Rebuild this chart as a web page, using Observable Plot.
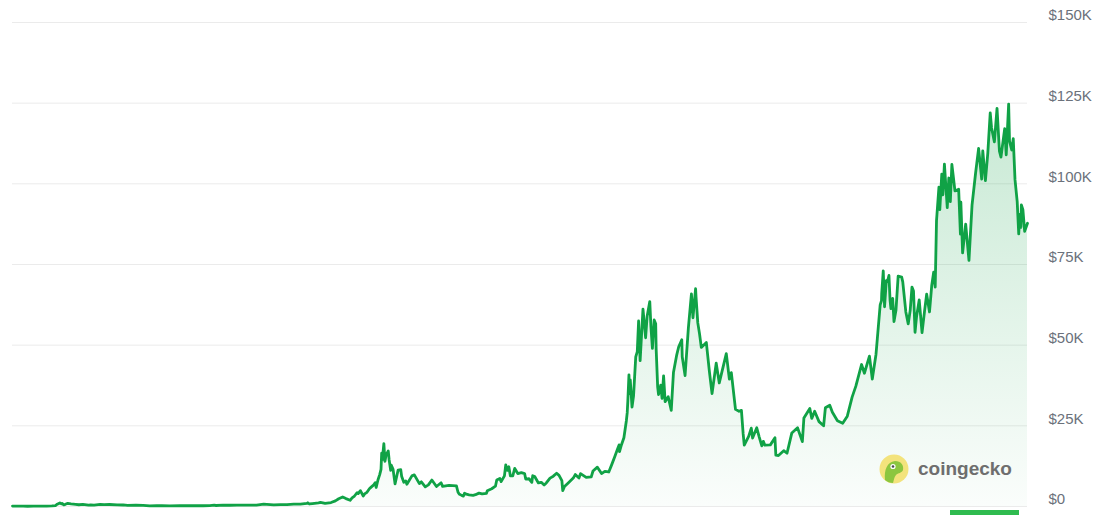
<!DOCTYPE html>
<html>
<head>
<meta charset="utf-8">
<script src="https://cdn.jsdelivr.net/npm/d3@7"></script>
<script src="https://cdn.jsdelivr.net/npm/@observablehq/plot@0.6"></script>
<style>
  html, body { margin: 0; padding: 0; background: #ffffff; }
  #wrap { position: relative; width: 1099px; height: 515px; overflow: hidden; }
  #wm { position: absolute; left: 879px; top: 454px; display: flex; align-items: center; gap: 9px;
        font-family: "Liberation Sans", Arial, sans-serif; font-weight: 700; font-size: 19px; color: #6e6e6e; }
  #nav { position: absolute; left: 950px; top: 510px; width: 69px; height: 5px; background: #2fbb4f; }
</style>
</head>
<body>
<div id="wrap">
  <div id="chart"></div>
  <div id="wm">
    <svg width="30" height="30" viewBox="0 0 30 30">
      <circle cx="15" cy="15" r="14.5" fill="#f3e37c"/>
      <path d="M6 26 C5 16 8 8 16 7 C22 7 25 11 24 16 C23 19 19 19 17 21 C15 23 15 26 14 29 C11 29 8 28 6 26 Z" fill="#8cc63f"/>
      <circle cx="14" cy="12.5" r="2.6" fill="#ffffff"/>
      <circle cx="14" cy="12.5" r="1.3" fill="#4a4a4a"/>
    </svg>
    <span>coingecko</span>
  </div>
  <div id="nav"></div>
</div>
<script>
const dates = [
"2013-04-28","2013-05-15","2013-06-15","2013-07-06","2013-08-01","2013-09-01","2013-10-01","2013-10-25","2013-11-10","2013-11-18","2013-11-30","2013-12-07","2013-12-10","2013-12-18","2013-12-25",
"2014-01-05","2014-01-20","2014-02-10","2014-02-25","2014-03-15","2014-04-10","2014-04-20","2014-05-05","2014-06-02","2014-06-20","2014-07-15","2014-08-18","2014-09-15","2014-10-05","2014-11-12","2014-12-15",
"2015-01-14","2015-02-15","2015-03-10","2015-04-15","2015-06-01","2015-07-10","2015-08-20","2015-09-15","2015-10-15","2015-11-04","2015-11-12","2015-12-15",
"2016-01-15","2016-02-15","2016-03-15","2016-04-15","2016-05-15","2016-06-17","2016-07-01","2016-08-02","2016-09-01","2016-10-01","2016-11-01","2016-12-01","2016-12-31",
"2017-01-04","2017-01-11","2017-01-25","2017-02-22","2017-03-03","2017-03-24","2017-04-20","2017-05-10","2017-05-25","2017-06-12","2017-06-27","2017-07-16","2017-07-25","2017-08-05","2017-08-17","2017-08-22","2017-09-01","2017-09-14","2017-09-20","2017-10-01","2017-10-12","2017-10-20","2017-11-01","2017-11-08","2017-11-12","2017-11-20","2017-11-28","2017-12-04","2017-12-07","2017-12-10","2017-12-17","2017-12-22","2017-12-27",
"2018-01-06","2018-01-10","2018-01-17","2018-01-20","2018-01-28","2018-02-06","2018-02-10","2018-02-20","2018-03-04","2018-03-08","2018-03-18","2018-03-27","2018-04-01","2018-04-24","2018-05-05","2018-05-28","2018-06-06","2018-06-24","2018-07-08","2018-07-24","2018-08-14","2018-09-04","2018-09-11","2018-10-10","2018-11-13","2018-11-20","2018-11-25","2018-12-07","2018-12-15","2018-12-20","2018-12-28",
"2019-01-10","2019-01-28","2019-02-08","2019-02-24","2019-03-10","2019-03-30","2019-04-03","2019-04-23","2019-05-10","2019-05-16","2019-05-30","2019-06-05","2019-06-20","2019-06-26","2019-07-03","2019-07-10","2019-07-17","2019-07-28","2019-08-06","2019-08-20","2019-09-05","2019-09-20","2019-09-25","2019-10-10","2019-10-23","2019-10-27","2019-11-05","2019-11-22","2019-12-05","2019-12-18","2019-12-28",
"2020-01-14","2020-01-29","2020-02-13","2020-02-24","2020-03-08","2020-03-12","2020-03-20","2020-04-06","2020-04-29","2020-05-08","2020-05-25","2020-06-01","2020-06-27","2020-07-20","2020-07-28","2020-08-17","2020-09-05","2020-09-20","2020-10-08","2020-10-21","2020-11-05","2020-11-17","2020-11-24","2020-11-26","2020-12-05","2020-12-16","2020-12-27","2020-12-31",
"2021-01-03","2021-01-08","2021-01-11","2021-01-14","2021-01-22","2021-01-29","2021-02-08","2021-02-15","2021-02-21","2021-02-28","2021-03-13","2021-03-25","2021-04-01","2021-04-13","2021-04-18","2021-04-25","2021-05-03","2021-05-10","2021-05-12","2021-05-19","2021-05-23","2021-06-02","2021-06-08","2021-06-15","2021-06-22","2021-07-06","2021-07-20","2021-07-30","2021-08-14","2021-08-23","2021-09-06","2021-09-08","2021-09-21","2021-10-06","2021-10-20","2021-10-27","2021-11-08","2021-11-10","2021-11-18","2021-11-26","2021-12-04","2021-12-27",
"2022-01-10","2022-01-22","2022-02-10","2022-02-24","2022-03-28","2022-04-11","2022-04-20","2022-05-09","2022-05-25","2022-06-05","2022-06-13","2022-06-18","2022-07-08","2022-07-20","2022-07-26","2022-08-14","2022-08-25","2022-09-06","2022-09-13","2022-09-20","2022-10-15","2022-11-05","2022-11-09","2022-11-21","2022-12-15","2022-12-30",
"2023-01-14","2023-01-21","2023-02-16","2023-03-10","2023-03-17","2023-04-13","2023-04-22","2023-05-05","2023-05-25","2023-06-15","2023-06-23","2023-07-13","2023-07-25","2023-08-17","2023-09-10","2023-10-01","2023-10-23","2023-11-09","2023-12-05","2023-12-18",
"2024-01-10","2024-01-23","2024-02-09","2024-02-15","2024-02-28","2024-03-05","2024-03-06","2024-03-13","2024-03-19","2024-03-27","2024-04-01","2024-04-08","2024-04-13","2024-04-17","2024-04-25","2024-05-01","2024-05-10","2024-05-20","2024-06-05","2024-06-10","2024-06-24","2024-07-05","2024-07-14","2024-07-22","2024-07-29","2024-08-05","2024-08-12","2024-08-24","2024-09-06","2024-09-17","2024-09-27","2024-10-10","2024-10-20","2024-10-29","2024-11-05","2024-11-11","2024-11-13","2024-11-22","2024-11-26","2024-12-05","2024-12-10","2024-12-17","2024-12-30",
"2025-01-06","2025-01-13","2025-01-20","2025-01-27","2025-02-03","2025-02-20","2025-02-28","2025-03-02","2025-03-10","2025-03-24","2025-04-08","2025-04-22","2025-05-08","2025-05-22","2025-06-05","2025-06-10","2025-06-22","2025-07-03","2025-07-14","2025-07-20","2025-08-02","2025-08-14","2025-08-25","2025-09-01","2025-09-18","2025-09-25","2025-10-06","2025-10-10","2025-10-20","2025-10-27","2025-11-04","2025-11-14","2025-11-21","2025-11-26","2025-12-01","2025-12-03","2025-12-10","2025-12-18","2025-12-31"
];
const prices = [
135,115,100,70,95,130,125,190,300,700,1120,800,980,520,680,
950,820,680,540,630,400,490,440,660,590,620,480,470,320,420,350,
180,240,290,220,230,290,230,230,260,400,310,450,
380,410,415,430,455,750,680,530,575,610,730,750,960,
1150,780,900,1120,1270,950,1230,1750,2400,2950,2450,1930,2700,3250,4300,4000,4900,3250,3900,4400,5500,6000,6700,7400,5900,8200,9900,11500,16500,14500,19500,14000,15900,
17200,14500,11200,12800,11500,7000,8200,11300,11400,9400,7500,7900,6900,9500,9800,7100,7650,6100,6700,8200,6200,7350,6250,6550,6380,4500,3900,3450,3230,4100,3800,
3600,3450,3650,4150,3900,4100,4900,5500,6300,8200,8700,7700,9500,12900,11200,12300,9500,9500,11800,10200,10500,10200,8500,8600,7500,9550,9300,7300,7500,6650,7300,
8800,9400,10300,9650,8000,4900,6200,7300,8800,9900,8800,10200,9000,9200,11000,12200,10200,10900,10700,12900,15600,17800,19100,17000,19150,21300,26500,29000,
32800,40800,35000,39200,30800,34300,46400,48000,57500,45200,61200,52300,59000,63500,56000,49000,57800,56600,49000,37000,34700,37600,33500,40500,32500,34000,29800,41500,47000,49500,51700,46400,40600,55300,65900,58500,67500,64900,56900,53500,49300,50800,
41800,35000,44400,38300,47400,39500,41500,30100,29500,29800,22500,19000,21700,24300,21200,24400,21600,18800,20200,19000,19100,21300,15900,15800,17300,16500,
20800,22800,24400,20100,27400,30400,27300,29500,26300,25000,30600,31400,29200,26600,25800,28000,33900,37300,44000,41300,
46600,39500,47200,52000,62500,63800,66000,73000,61900,70000,69700,71600,64000,61300,64500,57300,60800,71400,71100,69600,60300,56600,60800,68000,66800,54000,58900,64000,53900,60300,65800,60300,68400,72600,68000,88700,90500,99000,92000,103000,96600,106100,92600,
101800,94500,106000,102000,97800,98300,84400,94300,78600,87500,76300,93400,103200,111000,101500,110200,101000,109600,122000,117400,113000,123400,110100,108300,117100,109000,124700,113200,110500,114000,101300,94500,84500,90500,86500,93500,92000,85300,87800
];
const yTicks = [0, 25000, 50000, 75000, 100000, 125000, 150000];
const yLabels = ["$0", "$25K", "$50K", "$75K", "$100K", "$125K", "$150K"];

const data = dates.map((d, i) => ({date: new Date(d), price: prices[i]}));

const chart = Plot.plot({
  width: 1099,
  height: 515,
  marginLeft: 12,
  marginRight: 72,
  marginTop: 22,
  marginBottom: 9,
  style: {fontFamily: "'Liberation Sans', Arial, sans-serif", background: "transparent", overflow: "visible"},
  x: {type: "utc", axis: null},
  y: {domain: [0, 150000], label: null},
  marks: [
    Plot.gridY(yTicks, {stroke: "#ebebeb", strokeOpacity: 1}),
    Plot.axisY(yTicks, {
      anchor: "right", tickSize: 0, tickPadding: 21, dy: -7, label: null,
      tickFormat: (d) => yLabels[yTicks.indexOf(d)],
      fontSize: 15, fill: "#6b717b", textAnchor: "start"
    }),
    Plot.areaY(data, {x: "date", y: "price", fill: "url(#cg-grad)"}),
    Plot.lineY(data, {x: "date", y: "price", stroke: "#10a246", strokeWidth: 2.8, strokeLinejoin: "round"})
  ]
});

const defs = d3.select(chart).insert("defs", ":first-child");
const grad = defs.append("linearGradient").attr("id", "cg-grad")
  .attr("x1", 0).attr("y1", 0).attr("x2", 0).attr("y2", 1);
grad.append("stop").attr("offset", "0%").attr("stop-color", "#16a34a").attr("stop-opacity", 0.24);
grad.append("stop").attr("offset", "100%").attr("stop-color", "#16a34a").attr("stop-opacity", 0.02);

document.getElementById("chart").appendChild(chart);
</script>
</body>
</html>
